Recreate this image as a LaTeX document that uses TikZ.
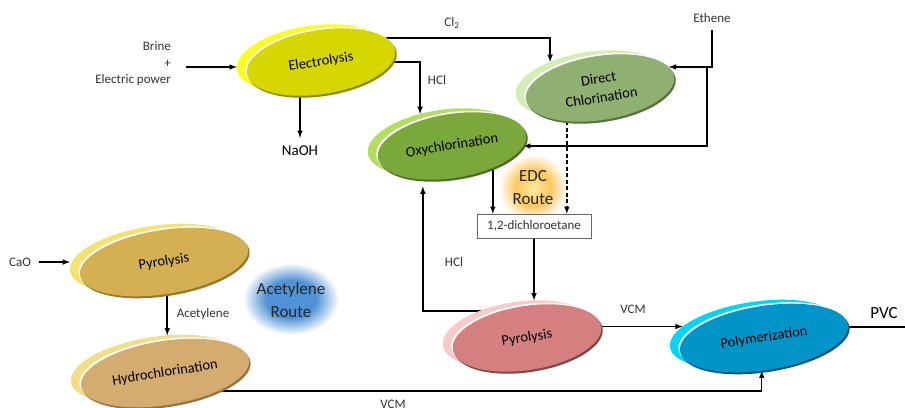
\documentclass[tikz,border=0pt]{standalone}
\usepackage{fontspec}
\setmainfont{Carlito}
\usetikzlibrary{shapes.geometric, arrows, calc}
\definecolor{elymain}{RGB}{214,214,0}
\definecolor{elyback}{RGB}{252,252,30}
\definecolor{elydark}{RGB}{140,140,0}
\definecolor{dcmain}{RGB}{143,176,112}
\definecolor{dcback}{RGB}{212,236,182}
\definecolor{dcdark}{RGB}{85,115,60}
\definecolor{oxymain}{RGB}{122,168,58}
\definecolor{oxyback}{RGB}{178,222,98}
\definecolor{oxydark}{RGB}{75,110,30}
\definecolor{pyamain}{RGB}{212,176,82}
\definecolor{pyaback}{RGB}{245,226,112}
\definecolor{pyadark}{RGB}{150,120,40}
\definecolor{hydmain}{RGB}{212,172,112}
\definecolor{hydback}{RGB}{242,222,132}
\definecolor{hyddark}{RGB}{150,115,60}
\definecolor{pyemain}{RGB}{212,128,128}
\definecolor{pyeback}{RGB}{250,202,202}
\definecolor{pyedark}{RGB}{130,70,70}
\definecolor{polmain}{RGB}{0,148,200}
\definecolor{polback}{RGB}{0,215,245}
\definecolor{poldark}{RGB}{0,85,125}
\definecolor{edcglow}{RGB}{252,200,95}
\definecolor{edccore}{RGB}{255,232,160}
\definecolor{acglow}{RGB}{80,146,214}
\pgfdeclareradialshading{edcshade}{\pgfpointorigin}{color(0bp)=(edccore); color(13bp)=(edcglow); color(25bp)=(white); color(50bp)=(white)}
\pgfdeclareradialshading{acshade}{\pgfpointorigin}{color(0bp)=(acglow); color(13bp)=(acglow); color(25bp)=(white); color(50bp)=(white)}
\pgfdeclarelayer{background}
\pgfsetlayers{background,main}

\begin{document}
\begin{tikzpicture}[x=1pt, y=-1pt,
  stage/.style={ellipse, minimum width=150pt, minimum height=64pt, inner sep=0pt, outer sep=0pt,
    rotate=9, align=center, font=\fontsize{14.5}{19}\selectfont},
  long/.style={minimum width=170pt},
  rim/.style={fill=white},
  lbl/.style={font=\fontsize{13}{16.5}\selectfont, inner sep=1pt, text=black!80},
  big/.style={font=\fontsize{17}{23}\selectfont, align=center, inner sep=1pt, text=black!85},
  link/.style={line width=1.5pt, -latex}]
\useasboundingbox (0,0) rectangle (905,407);

% Electrolysis
\node[stage, fill=elyback] (elyB) at (311,58) {};
\node[stage, rim] (elyR) at (319.5,60.5) {};
\node[stage, fill=elydark] (elyD) at (322.5,64) {};
\node[stage, fill=elymain] (ely) at (321,62) {Electrolysis};

% Direct chlorination
\node[stage, fill=dcback] (dcB) at (590,84) {};
\node[stage, rim] (dcR) at (598.5,86.5) {};
\node[stage, fill=dcdark] (dcD) at (601.5,90) {};
\node[stage, fill=dcmain] (dc) at (600,88) {Direct\\Chlorination};

% Oxychlorination
\node[stage, fill=oxyback] (oxyB) at (442,142) {};
\node[stage, rim] (oxyR) at (450.5,144.5) {};
\node[stage, fill=oxydark] (oxyD) at (453.5,148) {};
\node[stage, fill=oxymain] (oxy) at (452,146) {Oxychlorination};

% Pyrolysis (acetylene)
\node[stage, long, fill=pyaback] (pyAB) at (154,258) {};
\node[stage, long, rim] (pyAR) at (162.5,260.5) {};
\node[stage, long, fill=pyadark] (pyAD) at (165.5,264) {};
\node[stage, long, fill=pyamain] (pyA) at (164,262) {Pyrolysis};

% Hydrochlorination
\node[stage, long, fill=hydback] (hydB) at (155,369) {};
\node[stage, long, rim] (hydR) at (163.5,371.5) {};
\node[stage, long, fill=hyddark] (hydD) at (166.5,375) {};
\node[stage, long, fill=hydmain] (hyd) at (165,373) {Hydrochlorination};

% Pyrolysis (EDC)
\node[stage, fill=pyeback] (pyEB) at (517,334) {};
\node[stage, rim] (pyER) at (525.5,336.5) {};
\node[stage, fill=pyedark] (pyED) at (528.5,340) {};
\node[stage, fill=pyemain] (pyE) at (527,338) {Pyrolysis};

% Polymerization
\node[stage, long, fill=polback] (polB) at (754,334) {};
\node[stage, long, rim] (polR) at (762.5,336.5) {};
\node[stage, long, fill=poldark] (polD) at (765.5,340) {};
\node[stage, long, fill=polmain] (pol) at (764,338) {Polymerization};

% Labels
\node[lbl, anchor=east, align=right] (brine) at (172,64) {Brine\\+\\Electric power};
\node[lbl] (caO) at (20,262) {CaO};
\node[font=\fontsize{15}{18}\selectfont, inner sep=1pt] (naoh) at (300,151) {NaOH};
\node[lbl] (cl2) at (452,23) {Cl\textsubscript{2}};
\node[lbl] (hclA) at (437,80) {HCl};
\node[lbl] (ethene) at (712,18) {Ethene};
\node[big] (edc) at (533,188) {EDC\\Route};
\node[lbl, draw=black!60, fill=white, minimum width=114pt, minimum height=24pt] (box) at (534,226) {1,2-dichloroetane};
\node[lbl] (hclB) at (454,262) {HCl};
\node[lbl] (vcmA) at (633,309) {VCM};
\node[font=\fontsize{17}{20}\selectfont, inner sep=1pt] (pvc) at (884,313) {PVC};
\node[lbl] (vcmB) at (393,404) {VCM};
\node[big] (acr) at (291,300) {Acetylene\\Route};
\node[lbl] (acet) at (203,314) {Acetylene};
\coordinate (pvcout) at (905,327);

\begin{pgfonlayer}{background}
% Route glows
\shade[shading=edcshade] (533,188) ellipse (34 and 34);
\shade[shading=acshade] (291,299) ellipse (48 and 36);

% Feeds
\draw[link] ($(brine.east)+(14,3)$) -- ($(brine.east -| elyB.west)+(0,3)$);
\draw[link] ($(caO.east)+(7,0)$) -- (caO.east -| pyAB.west);
\draw[link, shorten <=6pt] (ethene.south) |- (dc.8);
\draw[link] ($(ethene.south |- dc.8)+(-5,0)$) |- (oxy.-9);

% Electrolysis products
\draw[link, shorten >=7pt] (naoh |- ely.center) -- (naoh.north);
\draw[link] ([yshift=24pt]ely.center) -| (dcB.142);
\draw[link] (ely.center) -| (oxyB.119);

% EDC route
\draw[link] (oxy.-37) -- (oxy.-37 |- box.north);
\draw[link, dash pattern=on 4pt off 2.5pt] (dc.-144) -- (dc.-144 |- box.north);
\draw[link] (box.south) -- (box.south |- pyEB.54);
\draw[link, shorten >=7pt] ([yshift=23pt]pyEB.center) -| (oxy.-140);
\draw[link] (pyE.center |- polB.165) -- (polB.165);
\draw[line width=1.5pt] (pol.center |- pvcout) -- (pvcout);

% Acetylene route
\draw[link] (hydB.61 |- pyA.center) -- (hydB.61);
\draw[link] ([yshift=-18pt]hyd.center) -| (pol.-103);
\end{pgfonlayer}
\end{tikzpicture}
\end{document}
